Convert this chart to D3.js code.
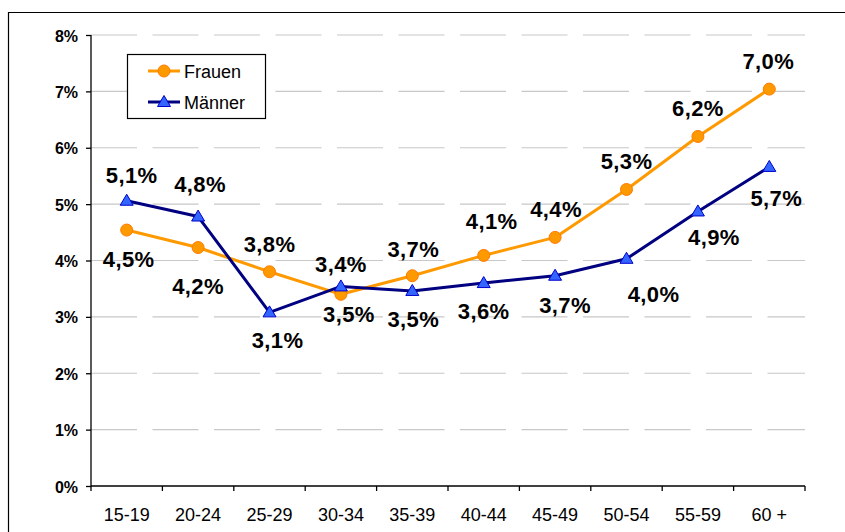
<!DOCTYPE html>
<html>
<head>
<meta charset="utf-8">
<script src="https://cdn.jsdelivr.net/npm/d3@7"></script>
<style>
  html, body { margin: 0; padding: 0; background: #fff; }
  svg { display: block; font-family: "Liberation Sans", Arial, sans-serif; }
</style>
</head>
<body>
<svg id="chart" width="845" height="532"></svg>
<script>
// ---- data ----
const categories = ["15-19","20-24","25-29","30-34","35-39","40-44","45-49","50-54","55-59","60 +"];
const frauen = [4.54, 4.23, 3.80, 3.40, 3.73, 4.09, 4.41, 5.26, 6.20, 7.04];
const maenner = [5.06, 4.78, 3.08, 3.54, 3.46, 3.60, 3.73, 4.03, 4.87, 5.66];
const yTicks = [0, 1, 2, 3, 4, 5, 6, 7, 8];
const seriesNames = ["Frauen", "Männer"];

(function () {
// ---- layout ----
const svg = d3.select("#chart");
const pLeft = 91, pRight = 805, pTop = 35, pBottom = 486;

const y = d3.scaleLinear().domain([0, 8]).range([pBottom, pTop]);
const xBand = d3.scaleBand().domain(categories).range([pLeft, pRight]);
const x = d3.scalePoint().domain(categories).range([pLeft, pRight]).padding(0.5);

// outer frame
svg.append("path")
  .attr("d", `M8.5,540 L8.5,12.5 L850,12.5`)
  .attr("fill", "none").attr("stroke", "#000").attr("stroke-width", 1.2);

// gridlines
svg.append("g").selectAll("line")
  .data(yTicks.filter(t => t > 0))
  .join("line")
  .attr("x1", pLeft).attr("x2", pRight)
  .attr("y1", d => y(d)).attr("y2", d => y(d))
  .attr("stroke", "#c8c8c8").attr("stroke-width", 1.2)
  .attr("stroke-dasharray", "46,15.5");

// y axis
const yAxis = d3.axisLeft(y).tickValues(yTicks).tickSize(5).tickPadding(8)
  .tickFormat(d => d + "%");
const gy = svg.append("g").attr("transform", `translate(${pLeft},0)`).call(yAxis);
gy.select(".domain").attr("stroke", "#000").attr("stroke-width", 1.3).attr("d", `M0,${pTop}V${pBottom}`);
gy.selectAll(".tick line").attr("stroke", "#000").attr("stroke-width", 1.3);
gy.selectAll(".tick text")
  .attr("font-family", "Liberation Sans, Arial, sans-serif")
  .attr("font-size", 16).attr("font-weight", "bold").attr("fill", "#000")
  .attr("dy", "0.38em");

// x axis
const gx = svg.append("g").attr("transform", `translate(0,${pBottom})`);
gx.append("line").attr("x1", pLeft).attr("x2", pRight).attr("y1", 0).attr("y2", 0)
  .attr("stroke", "#000").attr("stroke-width", 1.3);
const boundaries = categories.map(c => xBand(c)).concat([xBand.range()[1]]);
gx.selectAll("line.tk").data(boundaries).join("line").attr("class", "tk")
  .attr("x1", d => d).attr("x2", d => d).attr("y1", 0).attr("y2", 5)
  .attr("stroke", "#000").attr("stroke-width", 1.3);
gx.selectAll("text").data(categories).join("text")
  .attr("x", d => x(d)).attr("y", 35)
  .attr("text-anchor", "middle")
  .attr("font-size", 18).attr("fill", "#000")
  .text(d => d);

// lines
const line = d3.line().x((d, i) => x(categories[i])).y(d => y(d));
svg.append("path").datum(frauen).attr("d", line)
  .attr("fill", "none").attr("stroke", "#ff9900").attr("stroke-width", 3).attr("stroke-linejoin", "round");
svg.append("path").datum(maenner).attr("d", line)
  .attr("fill", "none").attr("stroke", "#000080").attr("stroke-width", 3).attr("stroke-linejoin", "round");

// markers
const tri = "M0,-6.5 L6.5,4.5 L-6.5,4.5 Z";
svg.append("g").selectAll("circle").data(frauen).join("circle")
  .attr("cx", (d, i) => x(categories[i])).attr("cy", d => y(d)).attr("r", 6)
  .attr("fill", "#ff9900").attr("stroke", "#ff7a00").attr("stroke-width", 1);
svg.append("g").selectAll("path").data(maenner).join("path")
  .attr("d", tri)
  .attr("transform", (d, i) => `translate(${x(categories[i])},${y(d)})`)
  .attr("fill", "#3366ff").attr("stroke", "#0000cc").attr("stroke-width", 1);

// data labels (label placement nudges, as in the original)
const fmt = v => d3.format(".1f")(v).replace(".", ",") + "%";
const fOff = [[2,37],[0,46],[0,-20],[0,-22],[1,-19],[8,-26],[1,-20],[0,-20],[0,-20],[-1,-20]];
const mOff = [[5,-18],[2,-25],[8,36],[8,36],[1,36],[0,36],[10,37],[27,43],[16,34],[7,39]];
function labels(vals, offs) {
  svg.append("g").selectAll("text").data(vals).join("text")
    .attr("x", (d, i) => x(categories[i]) + offs[i][0])
    .attr("y", (d, i) => y(d) + offs[i][1])
    .attr("text-anchor", "middle")
    .attr("font-size", 22).attr("font-weight", "bold").attr("letter-spacing", "0.4px")
    .attr("fill", "#000")
    .text(d => fmt(d));
}
labels(frauen, fOff);
labels(maenner, mOff);

// legend
const lg = svg.append("g");
lg.append("rect").attr("x", 127.5).attr("y", 54.5).attr("width", 138).attr("height", 64)
  .attr("fill", "#fff").attr("stroke", "#000").attr("stroke-width", 1.2);
const legendRows = [
  {name: seriesNames[0], color: "#ff9900", y: 71},
  {name: seriesNames[1], color: "#000080", y: 102}
];
legendRows.forEach((r, i) => {
  lg.append("line").attr("x1", 148).attr("x2", 180).attr("y1", r.y).attr("y2", r.y)
    .attr("stroke", r.color).attr("stroke-width", 3);
  if (i === 0) {
    lg.append("circle").attr("cx", 164).attr("cy", r.y).attr("r", 6)
      .attr("fill", "#ff9900").attr("stroke", "#ff7a00");
  } else {
    lg.append("path").attr("d", tri).attr("transform", `translate(164,${r.y})`)
      .attr("fill", "#3366ff").attr("stroke", "#0000cc");
  }
  lg.append("text").attr("x", 184).attr("y", r.y + 7)
    .attr("font-size", 18).attr("fill", "#000").text(r.name);
});
})();
</script>
</body>
</html>
